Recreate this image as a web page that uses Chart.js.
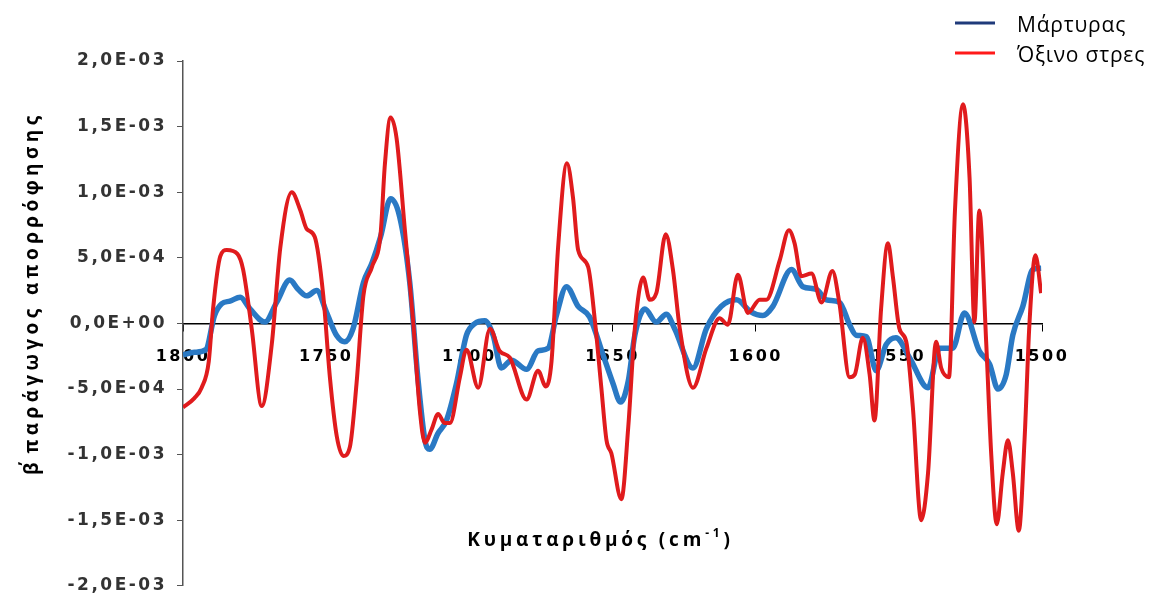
<!DOCTYPE html>
<html>
<head>
<meta charset="utf-8">
<script src="https://cdn.jsdelivr.net/npm/chart.js@4"></script>
<style>
  html, body { margin: 0; padding: 0; background: #fff; }
  #wrap { width: 1152px; height: 606px; }
</style>
</head>
<body>
<div id="wrap"><canvas id="spectrum"></canvas></div>
<script>
// wavenumbers (cm-1) and 2nd derivative values (x 1e-3)
const controlWn = [1800, 1796, 1792, 1789, 1786.5, 1783.6, 1780, 1776.6, 1771.4, 1767.3, 1762.7, 1759.8, 1756.8, 1753.3, 1749.8, 1746.4, 1743.5, 1740.6, 1737, 1734, 1731, 1727.5, 1724.3, 1720.8, 1718, 1715.5, 1713.8, 1711, 1708, 1704.5, 1701, 1698, 1694.6, 1691.7, 1688.8, 1685.3, 1680, 1676, 1672.5, 1669.6, 1666.1, 1662, 1658, 1653.3, 1649.8, 1647.2, 1644.5, 1642.2, 1638.7, 1634.7, 1631.2, 1628.3, 1621.9, 1617.2, 1612, 1606.7, 1601.8, 1597.5, 1594, 1587.5, 1583.5, 1578.8, 1575.3, 1570.7, 1567.2, 1564.9, 1561.4, 1557.9, 1554.4, 1551, 1546.3, 1539.8, 1535.8, 1531.2, 1527.1, 1521.9, 1518.3, 1515.4, 1512.5, 1510.2, 1506.7, 1503.2, 1500.3];
const controlVal = [-0.24, -0.22, -0.20, 0.06, 0.15, 0.17, 0.20, 0.11, 0.01, 0.16, 0.33, 0.26, 0.21, 0.25, 0.08, -0.09, -0.14, -0.04, 0.31, 0.46, 0.66, 0.95, 0.81, 0.31, -0.41, -0.89, -0.96, -0.84, -0.74, -0.46, -0.09, 0.00, 0.02, -0.09, -0.34, -0.28, -0.35, -0.21, -0.19, 0.06, 0.28, 0.13, 0.05, -0.24, -0.46, -0.60, -0.44, -0.09, 0.11, 0.01, 0.07, -0.04, -0.34, -0.04, 0.13, 0.18, 0.09, 0.06, 0.13, 0.41, 0.28, 0.26, 0.18, 0.16, -0.01, -0.09, -0.10, -0.36, -0.16, -0.11, -0.26, -0.49, -0.19, -0.19, 0.08, -0.21, -0.31, -0.50, -0.39, -0.09, 0.13, 0.41, 0.42];

const stressWn = [1800, 1796, 1793.5, 1791, 1789.5, 1787, 1784.7, 1781, 1779, 1776, 1772.5, 1769, 1766, 1762, 1759, 1756.8, 1754, 1751, 1748.7, 1746.3, 1744, 1741.7, 1739.4, 1737, 1734, 1731, 1729.5, 1727.5, 1725.4, 1722.5, 1719.6, 1717.3, 1715.5, 1713.2, 1710.9, 1708.6, 1706.8, 1703.3, 1701, 1696.9, 1692.8, 1689.4, 1685.9, 1680, 1676, 1673.3, 1671.3, 1669, 1665.9, 1663.8, 1662, 1658.5, 1656.1, 1653.9, 1652.1, 1650.4, 1646.9, 1644.5, 1642.2, 1639.3, 1637, 1634.7, 1631.4, 1628.9, 1626.5, 1621.9, 1617.2, 1612.6, 1609.7, 1606.2, 1602.7, 1598.6, 1596.3, 1591.6, 1588.4, 1586.4, 1584.1, 1580.5, 1577, 1573.2, 1570.8, 1567.2, 1565.4, 1562.6, 1560.2, 1558.5, 1556.2, 1553.8, 1552.1, 1549.8, 1547.4, 1545.1, 1542.2, 1539.8, 1537, 1535.2, 1532.5, 1530.4, 1527.6, 1525.3, 1523.6, 1521.9, 1519.5, 1517.7, 1515.8, 1513.7, 1511.9, 1510.2, 1508.1, 1506.1, 1504.4, 1502.3, 1500.3];
const stressVal = [-0.64, -0.57, -0.49, -0.29, 0.11, 0.51, 0.56, 0.53, 0.41, -0.04, -0.63, -0.16, 0.58, 1.00, 0.86, 0.72, 0.66, 0.21, -0.41, -0.86, -1.01, -0.94, -0.46, 0.21, 0.43, 0.68, 1.21, 1.57, 1.41, 0.71, 0.01, -0.66, -0.91, -0.81, -0.69, -0.76, -0.76, -0.41, -0.20, -0.49, -0.04, -0.21, -0.26, -0.58, -0.36, -0.48, -0.29, 0.58, 1.22, 0.96, 0.56, 0.43, 0.01, -0.49, -0.89, -0.99, -1.34, -0.79, -0.04, 0.35, 0.18, 0.23, 0.68, 0.41, -0.04, -0.49, -0.19, 0.04, -0.01, 0.37, 0.08, 0.18, 0.18, 0.48, 0.71, 0.61, 0.36, 0.38, 0.16, 0.40, 0.16, -0.41, -0.39, -0.11, -0.39, -0.74, 0.11, 0.61, 0.36, -0.04, -0.14, -0.64, -1.50, -1.14, -0.14, -0.34, -0.41, 0.86, 1.67, 1.11, 0.01, 0.86, -0.14, -1.01, -1.53, -1.14, -0.89, -1.14, -1.58, -0.89, -0.01, 0.52, 0.23];

const seriesNames = ['Μάρτυρας', 'Όξινο στρες'];
const xTicks = [1800, 1750, 1700, 1650, 1600, 1550, 1500];
const yTicks = [-2.0e-3, -1.5e-3, -1.0e-3, -0.5e-3, 0, 0.5e-3, 1.0e-3, 1.5e-3, 2.0e-3];

function toPoints(wn, vals) {
    return wn.map(function (w, i) {
        return { x: w, y: vals[i] * 1e-3 };
    });
}

// Excel style scientific label: 1,5E-03
function sciLabel(v) {
    if (Math.abs(v) < 1e-12) return '0,0E+00';
    const parts = v.toExponential(1).split('e');
    const exp = parseInt(parts[1], 10);
    const sign = exp < 0 ? '-' : '+';
    const digits = String(Math.abs(exp)).padStart(2, '0');
    return parts[0].replace('.', ',') + 'E' + sign + digits;
}

const legendColors = ['#1f3a7a', '#ff1a1a'];

const textSpacing = {
    id: 'textSpacing',
    beforeDraw(chart) {
        chart.ctx.letterSpacing = '2.5px';
    }
};

const labelsPlugin = {
    id: 'labelsPlugin',
    afterDraw(chart) {
        const ctx = chart.ctx;
        const area = chart.chartArea;
        const yScale = chart.scales.y;

        ctx.save();
        ctx.fillStyle = '#000';

        // x axis title with superscript
        ctx.letterSpacing = '3.8px';
        ctx.font = 'bold 19px "Open Sans"';
        ctx.textBaseline = 'alphabetic';
        const main = 'Κυματαριθμός (cm';
        const sup = '-1';
        const end = ')';
        const wMain = ctx.measureText(main).width;
        const wEnd = ctx.measureText(end).width;
        ctx.font = 'bold 12px "Open Sans"';
        const wSup = ctx.measureText(sup).width;
        const total = wMain + wSup + wEnd;
        let x = (area.left + area.right) / 2 - total / 2 - 12;
        const base = yScale.getPixelForValue(-1.58e-3) + 15;
        ctx.font = 'bold 19px "Open Sans"';
        ctx.textAlign = 'left';
        ctx.fillText(main, x, base);
        ctx.font = 'bold 12px "Open Sans"';
        ctx.fillText(sup, x + wMain, base - 9);
        ctx.font = 'bold 19px "Open Sans"';
        ctx.fillText(end, x + wMain + wSup, base);

        // y axis title
        ctx.save();
        ctx.translate(33, yScale.getPixelForValue(0.23e-3));
        ctx.rotate(-Math.PI / 2);
        ctx.textAlign = 'center';
        ctx.textBaseline = 'middle';
        ctx.letterSpacing = '4.4px';
        ctx.font = 'bold 19px "Open Sans"';
        ctx.fillText('β΄παράγωγος απορρόφησης', 0, 0);
        ctx.restore();

        // legend, stacked in the top right corner
        ctx.letterSpacing = '0.8px';
        ctx.font = '21px "Open Sans"';
        ctx.textAlign = 'left';
        ctx.textBaseline = 'middle';
        const rows = [23, 53];
        seriesNames.forEach(function (name, i) {
            ctx.strokeStyle = legendColors[i];
            ctx.lineWidth = 3;
            ctx.beginPath();
            ctx.moveTo(955, rows[i]);
            ctx.lineTo(995, rows[i]);
            ctx.stroke();
            ctx.fillStyle = '#000';
            ctx.fillText(name, 1017, rows[i] + 3);
        });
        ctx.restore();
    }
};

new Chart(document.getElementById('spectrum'), {
    type: 'line',
    data: {
        datasets: [
            {
                label: seriesNames[0],
                data: toPoints(controlWn, controlVal),
                borderColor: '#2a79c4',
                borderWidth: 5.5,
                pointRadius: 0,
                cubicInterpolationMode: 'monotone',
                order: 1
            },
            {
                label: seriesNames[1],
                data: toPoints(stressWn, stressVal),
                borderColor: '#e01b1d',
                borderWidth: 4,
                pointRadius: 0,
                cubicInterpolationMode: 'monotone',
                order: 0
            }
        ]
    },
    options: {
        responsive: true,
        maintainAspectRatio: false,
        animation: false,
        layout: {
            padding: { top: 61, right: 110, bottom: 11, left: 0 }
        },
        plugins: {
            legend: { display: false },
            tooltip: { enabled: false }
        },
        scales: {
            x: {
                type: 'linear',
                reverse: true,
                min: 1500,
                max: 1800,
                position: { y: 0 },
                afterBuildTicks(scale) {
                    scale.ticks = xTicks.map(function (v) { return { value: v }; });
                },
                ticks: {
                    color: '#000',
                    padding: 17,
                    maxRotation: 0,
                    callback: function (v) { return String(v); },
                    font: { family: 'DejaVu Sans', weight: 'bold', size: 16 }
                },
                grid: { drawOnChartArea: false, tickLength: 7, color: '#000', lineWidth: 1 },
                border: { color: '#000', width: 1.5 }
            },
            y: {
                min: -2.0e-3,
                max: 2.0e-3,
                afterBuildTicks(scale) {
                    scale.ticks = yTicks.map(function (v) { return { value: v }; });
                },
                afterFit(scale) {
                    scale.width = 183;
                },
                ticks: {
                    color: '#333',
                    padding: 10,
                    callback: function (v) { return sciLabel(v); },
                    font: { family: 'DejaVu Sans', weight: 'bold', size: 17 }
                },
                grid: { drawOnChartArea: false, tickLength: 6, color: '#555', lineWidth: 1 },
                border: { color: '#555', width: 1.5 }
            }
        }
    },
    plugins: [textSpacing, labelsPlugin]
});
</script>
</body>
</html>
